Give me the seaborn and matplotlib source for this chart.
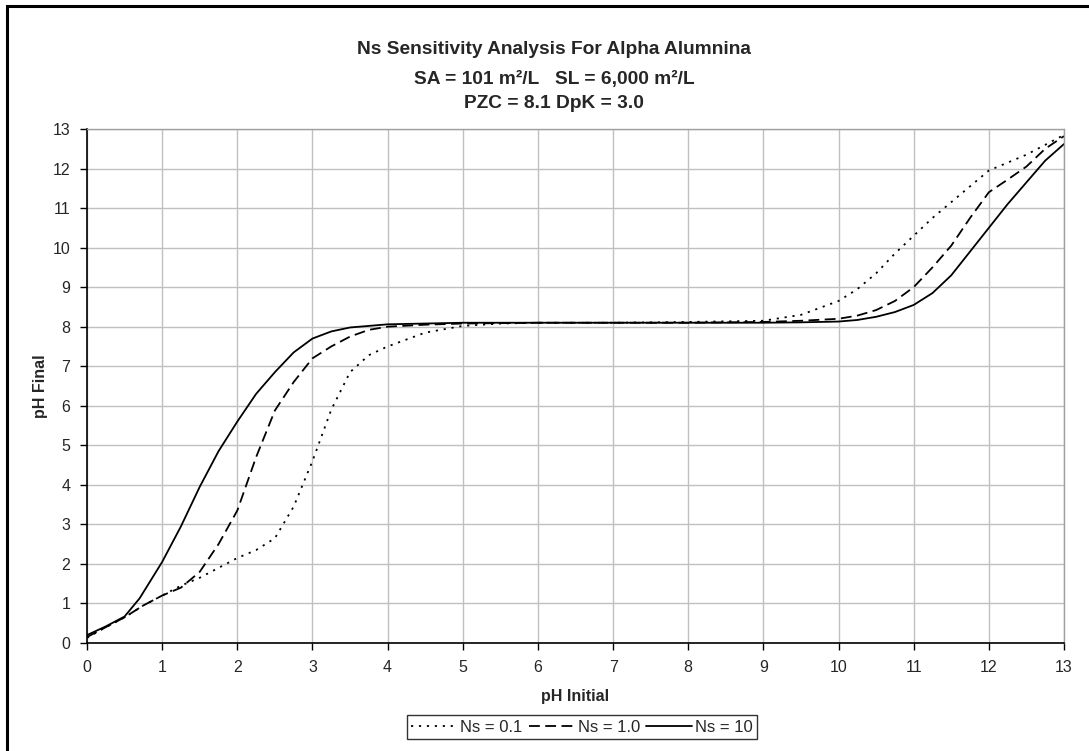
import matplotlib
matplotlib.use("Agg")
import matplotlib.pyplot as plt
from matplotlib.patches import Rectangle
import seaborn as sns
import pandas as pd

# ---- data ----
x_ns01 = [0, 0.25, 0.5, 0.75, 1.0, 1.25, 1.5, 1.75, 2.0, 2.25, 2.5, 2.75, 3.0, 3.25, 3.5,
          3.75, 4.0, 4.5, 5, 5.5, 6, 7, 8, 9, 9.5, 10, 10.25, 10.5, 10.75, 11, 11.25,
          11.5, 11.75, 12, 12.25, 12.5, 12.75, 13]
y_ns01 = [0.13, 0.4, 0.65, 0.95, 1.2, 1.45, 1.65, 1.9, 2.15, 2.35, 2.65, 3.45, 4.6, 5.9,
          6.85, 7.28, 7.5, 7.85, 8.02, 8.08, 8.1, 8.1, 8.12, 8.15, 8.3, 8.65, 8.95, 9.35,
          9.85, 10.3, 10.75, 11.15, 11.55, 11.95, 12.15, 12.35, 12.6, 12.85]

x_ns1 = [0, 0.25, 0.5, 0.75, 1.0, 1.25, 1.5, 1.75, 2.0, 2.25, 2.5, 2.75, 3.0, 3.25, 3.5,
         3.75, 4.0, 4.5, 5, 6, 7, 8, 9, 9.5, 10, 10.25, 10.5, 10.75, 11, 11.25, 11.5,
         11.75, 12, 12.25, 12.5, 12.75, 13]
y_ns1 = [0.15, 0.4, 0.65, 0.95, 1.2, 1.4, 1.8, 2.5, 3.35, 4.7, 5.88, 6.6, 7.2, 7.5, 7.75,
         7.92, 8.0, 8.05, 8.08, 8.1, 8.1, 8.1, 8.12, 8.15, 8.2, 8.28, 8.42, 8.65, 9.0,
         9.5, 10.05, 10.75, 11.4, 11.72, 12.05, 12.5, 12.82]

x_ns10 = [0, 0.25, 0.5, 0.7, 1.0, 1.25, 1.5, 1.75, 2.0, 2.25, 2.5, 2.75, 3.0, 3.25, 3.5,
          4.0, 4.5, 5, 6, 7, 8, 9, 9.5, 10, 10.25, 10.5, 10.75, 11, 11.25, 11.5, 11.75,
          12, 12.25, 12.5, 12.75, 13]
y_ns10 = [0.2, 0.42, 0.67, 1.13, 2.05, 2.95, 3.95, 4.85, 5.6, 6.3, 6.85, 7.35, 7.7, 7.88,
          7.98, 8.06, 8.08, 8.1, 8.1, 8.1, 8.1, 8.1, 8.11, 8.13, 8.17, 8.25, 8.37, 8.55,
          8.85, 9.3, 9.9, 10.5, 11.1, 11.65, 12.2, 12.62]

series_labels = ["Ns = 0.1", "Ns = 1.0", "Ns = 10"]
x_ticks = list(range(0, 14))
y_ticks = list(range(0, 14))

df = pd.concat([
    pd.DataFrame({"x": x_ns01, "y": y_ns01, "series": series_labels[0]}),
    pd.DataFrame({"x": x_ns1, "y": y_ns1, "series": series_labels[1]}),
    pd.DataFrame({"x": x_ns10, "y": y_ns10, "series": series_labels[2]}),
], ignore_index=True)

# ---- style ----
sns.set_style("white")
plt.rcParams["font.family"] = ["Liberation Sans", "DejaVu Sans"]

fig = plt.figure(figsize=(10.89, 7.51), dpi=100)
ax = fig.add_axes([87 / 1089, 1 - 643 / 751, (1064 - 87) / 1089, (643 - 129) / 751])

dash_map = {series_labels[0]: (1.2, 3.2), series_labels[1]: (6, 3), series_labels[2]: ""}
sns.lineplot(data=df, x="x", y="y", style="series", dashes=dash_map,
             color="black", linewidth=1.3, sort=True, estimator=None,
             ax=ax, legend=True)

ax.set_xlim(0, 13)
ax.set_ylim(0, 13)
ax.set_xticks(x_ticks)
ax.set_yticks(y_ticks)
ax.grid(True, color="#c0c0c0", linewidth=1.0)
ax.set_axisbelow(True)

for side in ["top", "right"]:
    ax.spines[side].set_color("#a0a0a0")
    ax.spines[side].set_linewidth(1.0)
for side in ["left", "bottom"]:
    ax.spines[side].set_color("black")
    ax.spines[side].set_linewidth(1.2)

ax.tick_params(axis="both", which="major", direction="out", length=5, width=1,
               color="black", labelsize=11.5, pad=7, bottom=True, left=True)

ax.set_xlabel("pH Initial", fontsize=11.5, fontweight="bold", labelpad=10)
ax.set_ylabel("pH Final", fontsize=11.5, fontweight="bold", labelpad=3)

# title lines
tx = 554 / 1089
fig.text(tx, 1 - 50 / 751, "Ns Sensitivity Analysis For Alpha Alumnina",
         ha="center", va="center", fontsize=13.8, fontweight="bold")
fig.text(tx, 1 - 79 / 751, "SA = 101 m²/L   SL = 6,000 m²/L",
         ha="center", va="center", fontsize=13.8, fontweight="bold")
fig.text(tx, 1 - 103 / 751, "PZC = 8.1 DpK = 3.0",
         ha="center", va="center", fontsize=13.8, fontweight="bold")

# legend
handles, labels = ax.get_legend_handles_labels()
leg = ax.legend(handles, labels, loc="center", bbox_to_anchor=(582 / 1089, 1 - 727 / 751),
                bbox_transform=fig.transFigure, ncol=3, frameon=True, fancybox=False,
                edgecolor="black", fontsize=12, handlelength=2.8, handletextpad=0.15,
                columnspacing=0.35, borderpad=0.25, borderaxespad=0)
leg.get_frame().set_linewidth(1.0)

# outer chart-area border
fig.patches.append(Rectangle((7 / 1089, -0.1), 1.2, (1 - 6 / 751) + 0.1,
                             transform=fig.transFigure, fill=False,
                             edgecolor="black", linewidth=2.2, clip_on=False))

fig.savefig("out.png", dpi=100, facecolor="white")
